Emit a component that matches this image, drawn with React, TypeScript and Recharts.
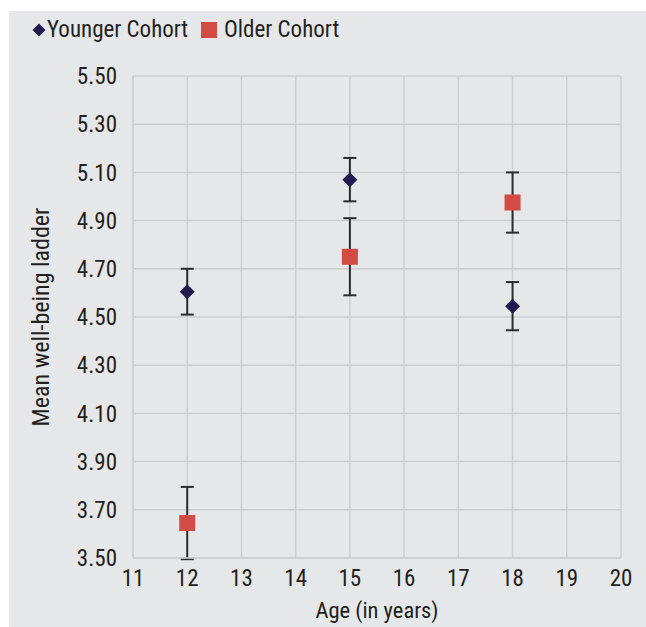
import { CartesianGrid, ErrorBar, Scatter, ScatterChart, XAxis, YAxis } from 'recharts'

const ages = [12, 15, 18]
const youngerMeans = [4.605, 5.07, 4.545]
const youngerErr = [0.095, 0.09, 0.1]
const olderMeans = [3.645, 4.75, 4.975]
const olderErr = [0.15, 0.16, 0.125]
const xTicks = [11, 12, 13, 14, 15, 16, 17, 18, 19, 20]
const yTicks = [3.5, 3.7, 3.9, 4.1, 4.3, 4.5, 4.7, 4.9, 5.1, 5.3, 5.5]

const FONT = 'Roboto, sans-serif'
const TEXT = '#231f20'
const NAVY = '#231a4f'
const RED = '#d34b45'
const GRID = '#cdced1'

const younger = ages.map((age, i) => ({ age, mean: youngerMeans[i], err: youngerErr[i] }))
const older = ages.map((age, i) => ({ age, mean: olderMeans[i], err: olderErr[i] }))

function Diamond(props: any) {
  const { cx, cy } = props
  const r = 7.5
  return <polygon points={`${cx},${cy - r} ${cx + r},${cy} ${cx},${cy + r} ${cx - r},${cy}`} fill={NAVY} />
}

function Square(props: any) {
  const { cx, cy } = props
  return <rect x={cx - 8} y={cy - 8} width={16} height={16} fill={RED} />
}

// legend sits above the plot, outside the chart so it doesn't push the plot down
function ChartLegend() {
  const item = { position: 'absolute' as const, top: 14, height: 32, display: 'flex', alignItems: 'center', lineHeight: '32px' }
  return (
    <div style={{ fontFamily: FONT, fontStretch: 'condensed', fontSize: 23, color: TEXT }}>
      <div style={{ ...item, left: 32 }}>
        <svg width={14} height={14} style={{ marginRight: 1 }}>
          <polygon points="7,0.5 13.5,7 7,13.5 0.5,7" fill={NAVY} />
        </svg>
        <span>Younger Cohort</span>
      </div>
      <div style={{ ...item, left: 201 }}>
        <svg width={16} height={16} style={{ marginRight: 7 }}>
          <rect x={0} y={0} width={16} height={16} fill={RED} />
        </svg>
        <span>Older Cohort</span>
      </div>
    </div>
  )
}

export default function App() {
  return (
    <div style={{ position: 'absolute', left: 0, top: 0, width: 646, height: 627, fontStretch: 'condensed' }}>
      <div style={{ position: 'absolute', left: 9, top: 11, right: 0, bottom: 0, background: '#e6e7e9' }} />
      <div style={{ position: 'absolute', left: 0, top: 0 }}>
        <ScatterChart width={646} height={627} margin={{ top: 76, right: 25, bottom: 0, left: 23 }}>
          <CartesianGrid stroke={GRID} strokeWidth={1.5} />
          <XAxis
            type="number"
            dataKey="age"
            domain={[11, 20]}
            ticks={xTicks}
            interval={0}
            height={69}
            axisLine={{ stroke: GRID, strokeWidth: 1.5 }}
            tickLine={false}
            tickSize={0}
            tickMargin={12}
            tick={{ fill: TEXT, fontSize: 23, fontFamily: FONT }}
            label={{ value: 'Age (in years)', position: 'insideBottom', offset: 9, fill: TEXT, fontSize: 22.5, fontFamily: FONT }}
          />
          <YAxis
            type="number"
            dataKey="mean"
            domain={[3.5, 5.5]}
            allowDataOverflow
            ticks={yTicks}
            interval={0}
            width={110}
            axisLine={{ stroke: GRID, strokeWidth: 1.5 }}
            tickLine={false}
            tickSize={0}
            tickMargin={16}
            tickFormatter={(v) => Number(v).toFixed(2)}
            tick={{ fill: TEXT, fontSize: 23, fontFamily: FONT }}
            label={{
              value: 'Mean well-being ladder',
              angle: -90,
              position: 'insideLeft',
              offset: 17,
              fill: TEXT,
              fontSize: 24,
              fontFamily: FONT,
              style: { textAnchor: 'middle' },
            }}
          />
          <Scatter name="Younger Cohort" data={younger} shape={<Diamond />} isAnimationActive={false}>
            <ErrorBar dataKey="err" direction="y" width={6.5} stroke="#2b2b2b" strokeWidth={2} isAnimationActive={false} />
          </Scatter>
          <Scatter name="Older Cohort" data={older} shape={<Square />} isAnimationActive={false}>
            <ErrorBar dataKey="err" direction="y" width={6.5} stroke="#2b2b2b" strokeWidth={2} isAnimationActive={false} />
          </Scatter>
        </ScatterChart>
      </div>
      <ChartLegend />
    </div>
  )
}
